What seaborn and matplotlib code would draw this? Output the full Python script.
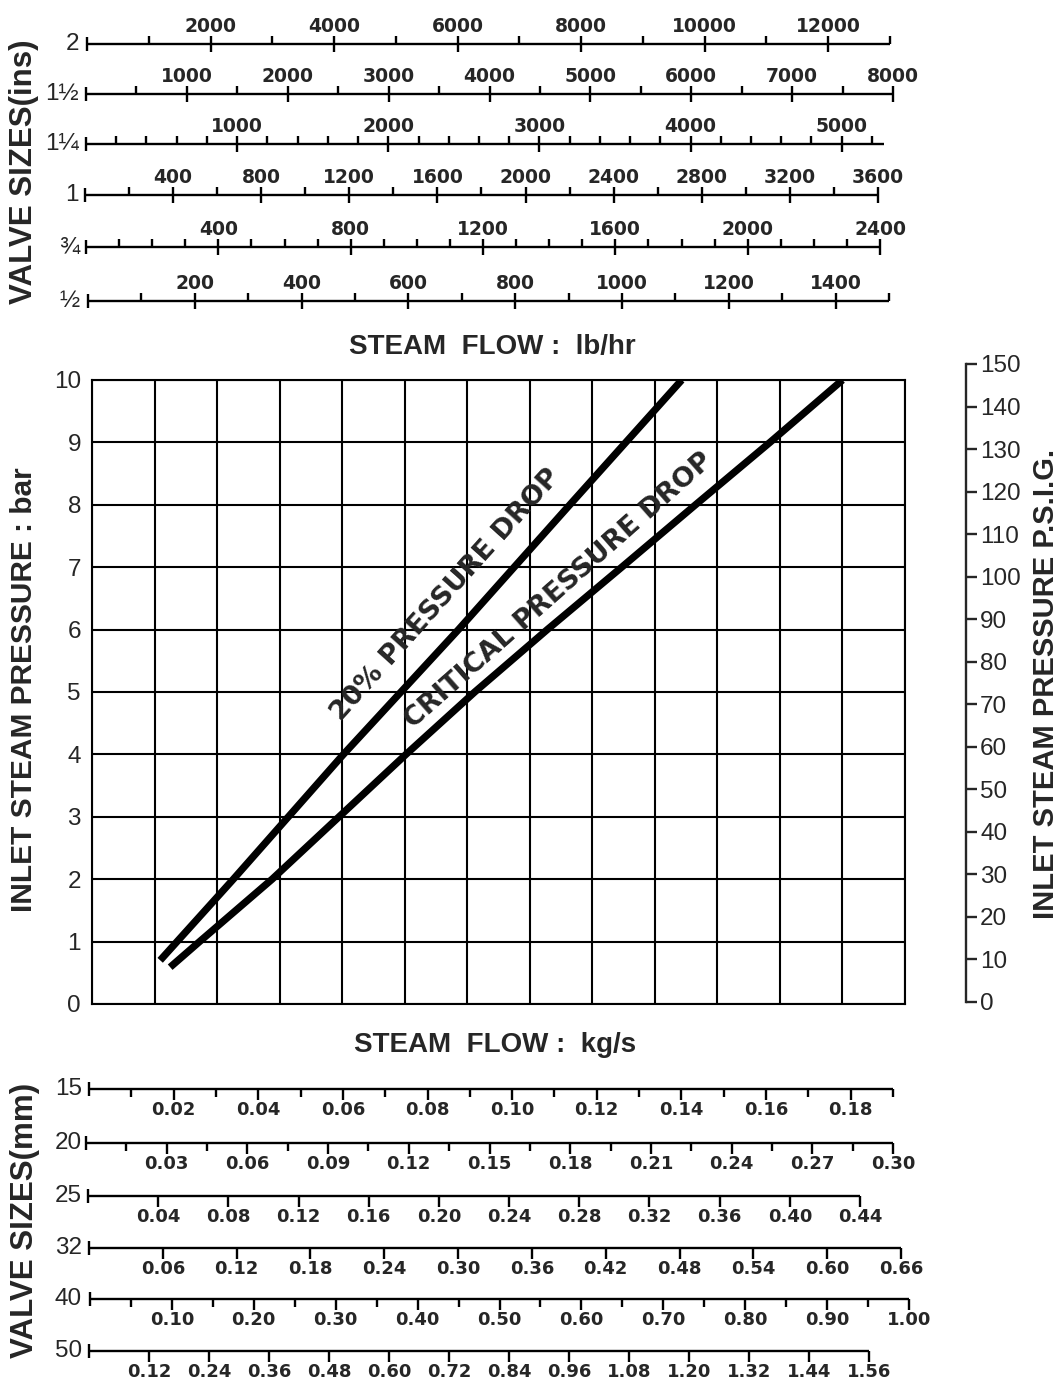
import numpy as np
import pandas as pd
import matplotlib
matplotlib.use("Agg")
import matplotlib.pyplot as plt
import seaborn as sns

# ---- values ----
# upper scales: steam flow lb/hr for each valve size (ins)
ins_sizes = ["2", "1½", "1¼", "1", "¾", "½"]
lbhr_labels = [
    [2000, 4000, 6000, 8000, 10000, 12000],
    [1000, 2000, 3000, 4000, 5000, 6000, 7000, 8000],
    [1000, 2000, 3000, 4000, 5000],
    [400, 800, 1200, 1600, 2000, 2400, 2800, 3200, 3600],
    [400, 800, 1200, 1600, 2000, 2400],
    [200, 400, 600, 800, 1000, 1200, 1400],
]
lbhr_minor = [1000, 500, 200, 200, 100, 100]
lbhr_max = [13000, 8000, 5280, 3600, 2400, 1500]

# lower scales: steam flow kg/s for each valve size (mm)
mm_sizes = ["15", "20", "25", "32", "40", "50"]
kgs_labels = [
    [0.02, 0.04, 0.06, 0.08, 0.10, 0.12, 0.14, 0.16, 0.18],
    [0.03, 0.06, 0.09, 0.12, 0.15, 0.18, 0.21, 0.24, 0.27, 0.30],
    [0.04, 0.08, 0.12, 0.16, 0.20, 0.24, 0.28, 0.32, 0.36, 0.40, 0.44],
    [0.06, 0.12, 0.18, 0.24, 0.30, 0.36, 0.42, 0.48, 0.54, 0.60, 0.66],
    [0.10, 0.20, 0.30, 0.40, 0.50, 0.60, 0.70, 0.80, 0.90, 1.00],
    [0.12, 0.24, 0.36, 0.48, 0.60, 0.72, 0.84, 0.96, 1.08, 1.20, 1.32, 1.44, 1.56],
]
kgs_minor = [0.01, 0.015, 0, 0, 0.05, 0]
kgs_max = [0.19, 0.30, 0.44, 0.66, 1.00, 1.56]

# main grid: inlet pressure (bar) against flow (grid squares)
bar_ticks = list(range(0, 11))
psig_ticks = list(range(0, 151, 10))
drop20_x = [1.09, 2.26, 4.02, 5.86, 7.64, 9.43]
drop20_y = [0.70, 2.0, 4.0, 6.0, 8.0, 10.0]
crit_x = [1.25, 1.72, 2.88, 3.95, 5.02, 6.12, 7.28, 8.47, 9.65, 10.84, 12.0]
crit_y = [0.59, 1.0, 2.0, 3.0, 4.0, 5.0, 6.0, 7.0, 8.0, 9.0, 10.0]

# ---- layout (pixels) ----
W, H = 1063, 1383
top_y = [44, 94, 144, 195, 247, 301]
top_x0 = [87, 86, 86, 85, 86, 88]
top_x1 = [890, 893, 884, 878, 880, 889]
bot_y = [1089, 1143, 1196, 1248, 1299, 1351]
bot_x0 = [89, 86, 88, 89, 90, 89]
bot_x1 = [893, 893, 860, 901, 909, 869]

sns.set_style("white")
plt.rcParams["font.family"] = ["Liberation Sans", "DejaVu Sans"]

fig = plt.figure(figsize=(W / 100, H / 100), dpi=100)


def box(x0, y0, x1, y1):
    return [x0 / W, 1 - y1 / H, (x1 - x0) / W, (y1 - y0) / H]


def scale_axes(x0, x1, y, vmax, majors, minor_step, labels_above, fmt):
    ax = fig.add_axes([x0 / W, 1 - y / H, (x1 - x0) / W, 1e-4])
    ax.set_xlim(0, vmax)
    ax.set_ylim(0, 1)
    ax.patch.set_alpha(0)
    for sp in ax.spines.values():
        sp.set_visible(False)
    ax.set_yticks([])
    ax.plot([0, vmax], [0, 0], color="k", lw=1.7, clip_on=False,
            solid_capstyle="butt")
    ax.plot([0], [0], ls="none", marker="|", ms=10, mew=1.7, color="k",
            clip_on=False)
    if minor_step:
        minors = np.round(np.arange(minor_step, vmax + 1e-9, minor_step), 4)
        minors = [m for m in minors if not np.any(np.isclose(m, majors))]
        ax.plot(minors, np.zeros(len(minors)), ls="none",
                marker=2 if labels_above else 3, ms=6 if labels_above else 5.5,
                mew=1.7, color="k", clip_on=False)
    ax.plot(majors, np.zeros(len(majors)), ls="none",
            marker="|" if labels_above else 3, ms=11 if labels_above else 8,
            mew=1.7, color="k", clip_on=False)
    ax.set_xticks(majors, [fmt(v) for v in majors],
                  fontsize=13.5 if labels_above else 13,
                  fontweight="bold", fontfamily="DejaVu Sans")
    ax.tick_params(axis="x", length=0, bottom=False, top=False,
                   labeltop=labels_above, labelbottom=not labels_above,
                   pad=6 if labels_above else 8.5)
    return ax


for i, name in enumerate(ins_sizes):
    scale_axes(top_x0[i], top_x1[i], top_y[i], lbhr_max[i], lbhr_labels[i],
               lbhr_minor[i], True, lambda v: f"{v:d}")
    fig.text(79 / W, 1 - top_y[i] / H, name, ha="right", va="center",
             fontsize=17.5)

for i, name in enumerate(mm_sizes):
    scale_axes(bot_x0[i], bot_x1[i], bot_y[i], kgs_max[i], kgs_labels[i],
               kgs_minor[i], False, lambda v: f"{v:.2f}")
    fig.text(82 / W, 1 - bot_y[i] / H, name, ha="right", va="center",
             fontsize=17.5)

# main pressure / flow grid
main = fig.add_axes(box(92, 380, 905, 1004))
curves = pd.DataFrame({
    "x": drop20_x + crit_x,
    "y": drop20_y + crit_y,
    "curve": ["20%"] * len(drop20_x) + ["critical"] * len(crit_x),
})
sns.lineplot(data=curves, x="x", y="y", units="curve", estimator=None,
             sort=False, color="k", lw=5.2, solid_capstyle="butt",
             solid_joinstyle="round", ax=main)
main.set_xlim(0, 13)
main.set_ylim(0, 10)
main.set_xticks(range(14))
main.set_xticklabels([])
main.set_yticks(bar_ticks)
main.tick_params(length=0, labelsize=17.5, pad=8)
main.set_xlabel("")
main.set_ylabel("")
main.grid(True, color="k", lw=1.5)
main.set_axisbelow(True)
for sp in main.spines.values():
    sp.set_color("k")
    sp.set_linewidth(1.5)

main.text(5.66, 6.55, "20% PRESSURE DROP", rotation=48, rotation_mode="anchor",
          ha="center", va="center", fontsize=19.5, fontweight="bold",
          fontfamily="DejaVu Sans")
main.text(7.47, 6.62, "CRITICAL PRESSURE DROP", rotation=41.5,
          rotation_mode="anchor", ha="center", va="center", fontsize=19.5,
          fontweight="bold", fontfamily="DejaVu Sans")

# psig scale on the right
psig = fig.add_axes(box(966, 364, 976, 1002))
psig.set_ylim(0, 150)
psig.set_yticks(psig_ticks)
psig.set_xticks([])
psig.patch.set_alpha(0)
for k, sp in psig.spines.items():
    sp.set_visible(k == "left")
psig.spines["left"].set_linewidth(1.7)
psig.tick_params(axis="y", left=True, right=False, direction="in", length=8,
                 width=1.7, labelleft=False, labelright=True, pad=3,
                 labelsize=17.5)

# titles
fig.text(24 / W, 1 - 172 / H, "VALVE SIZES(ins)", rotation=90, ha="center",
         va="center", fontsize=22.5, fontweight="bold")
fig.text(25 / W, 1 - 1220 / H, "VALVE SIZES(mm)", rotation=90, ha="center",
         va="center", fontsize=22.5, fontweight="bold")
fig.text(24 / W, 1 - 690 / H, "INLET STEAM PRESSURE : bar", rotation=90,
         ha="center", va="center", fontsize=21.5, fontweight="bold")
fig.text(1046 / W, 1 - 684 / H, "INLET STEAM PRESSURE P.S.I.G.", rotation=90,
         ha="center", va="center", fontsize=21, fontweight="bold")
fig.text(492 / W, 1 - 347 / H, "STEAM  FLOW :  lb/hr", ha="center",
         va="center", fontsize=20, fontweight="bold")
fig.text(495 / W, 1 - 1045 / H, "STEAM  FLOW :  kg/s", ha="center",
         va="center", fontsize=20, fontweight="bold")

fig.savefig("out.png", dpi=100)
